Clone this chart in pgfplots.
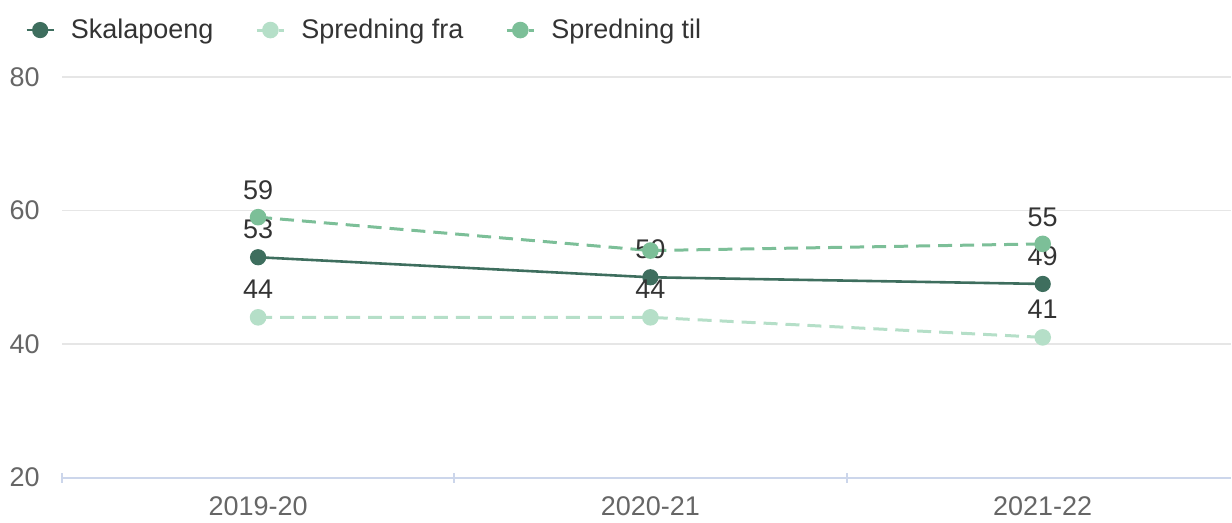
\documentclass[border=0pt]{standalone}
\usepackage{pgfplots}
\pgfplotsset{compat=1.18}
\usepackage{fontspec}
\setmainfont{Liberation Sans}
\definecolor{skala}{HTML}{3E6E5E}
\definecolor{fra}{HTML}{B5DFC8}
\definecolor{til}{HTML}{7CBF98}
\definecolor{gridc}{HTML}{E6E6E6}
\definecolor{axisc}{HTML}{CCD6EB}
\definecolor{labc}{HTML}{666666}
\definecolor{txtc}{HTML}{333333}

\begin{document}
\begin{tikzpicture}
\begin{axis}[
    scale only axis,
    width=585pt, height=200.5pt,
    xmin=-0.5, xmax=2.48,
    ymin=20, ymax=80,
    ytick={20,40,60,80},
    xtick={0,1,2},
    xticklabels={2019-20,2020-21,2021-22},
    minor xtick={-0.5,0.5,1.5,2.5},
    major tick length=0pt,
    minor tick length=5pt,
    tick align=outside,
    tick pos=bottom,
    every minor tick/.style={color=axisc, line width=1pt},
    axis lines=left,
    axis line style={-},
    x axis line style={color=axisc, line width=1pt},
    y axis line style={draw=none},
    ymajorgrids,
    grid style={color=gridc, line width=0.6pt},
    font=\fontsize{13.5}{16}\selectfont,
    /pgf/number format/assume math mode=true,
    yticklabel style={color=labc, inner sep=0pt, anchor=east, xshift=-11pt},
    xticklabel style={color=labc, inner sep=0pt, anchor=north, yshift=-9.5pt},
    legend columns=-1,
    legend style={draw=none, fill=none, inner sep=0pt, at={(-0.0316,1.117)}, anchor=west,
        font=\fontsize{13.5}{16}\selectfont, text=txtc,
        /tikz/every odd column/.append style={column sep=8pt},
        /tikz/every even column/.append style={column sep=21pt},
        nodes={inner sep=0pt}},
    legend cell align=left,
    legend image code/.code={\draw[mark repeat=2,mark phase=2] plot coordinates {(0pt,0pt) (6.75pt,0pt) (13.5pt,0pt)};},
    nodes near coords,
    every node near coord/.append style={color=txtc, inner sep=0pt, anchor=south, yshift=8.5pt, font=\fontsize{13.5}{16}\selectfont},
    clip=false,
]
\addplot[color=skala, line width=1.3pt, mark=*, mark size=3.4pt, mark options={solid}]
    coordinates {(0,53) (1,50) (2,49)};
\addplot[color=fra, line width=1.5pt, dash pattern=on 7pt off 4pt, mark=*, mark size=3.4pt, mark options={solid}]
    coordinates {(0,44) (1,44) (2,41)};
\addplot[color=til, line width=1.5pt, dash pattern=on 7pt off 4pt, mark=*, mark size=3.4pt, mark options={solid}, nodes near coords={}]
    coordinates {(0,59) (1,54) (2,55)};
\addplot[only marks, color=til, mark=*, mark size=3.4pt, forget plot]
    coordinates {(0,59) (2,55)};
\legend{Skalapoeng, Spredning fra, Spredning til}
\end{axis}
\path (current axis.south west) ++(-31pt,-22.5pt) rectangle ++(616pt,261.5pt);
\end{tikzpicture}
\end{document}
